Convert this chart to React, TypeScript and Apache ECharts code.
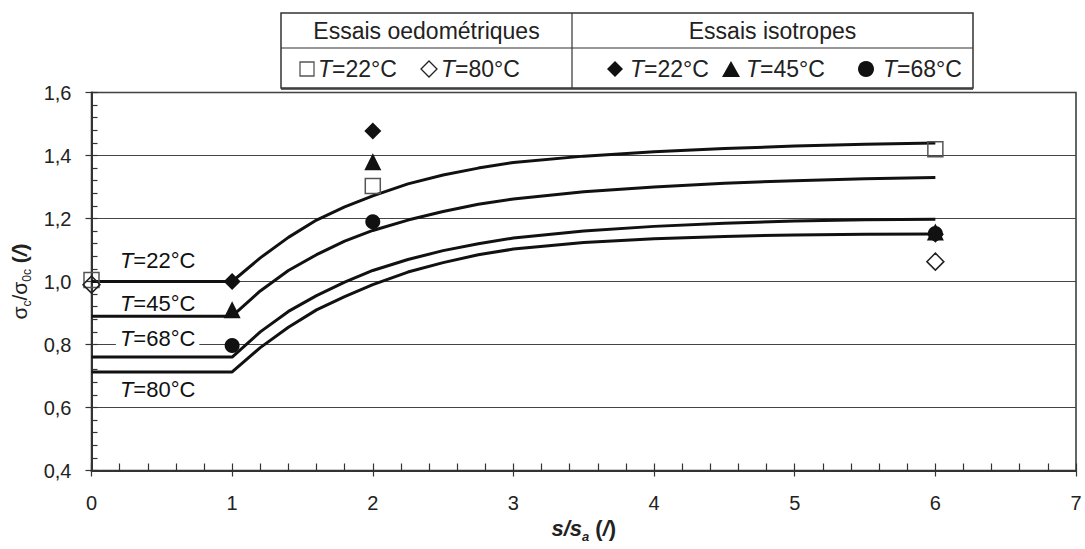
import React, { useEffect, useRef } from 'react';
import * as echarts from 'echarts';

// ---------- data ----------
const curveX = [0, 1, 1.2, 1.4, 1.6, 1.8, 2, 2.25, 2.5, 2.75, 3, 3.5, 4, 4.5, 5, 5.5, 6];
const curveT22 = [1.0, 1.0, 1.075, 1.14, 1.195, 1.237, 1.272, 1.31, 1.338, 1.36, 1.378, 1.398, 1.412, 1.422, 1.43, 1.436, 1.44];
const curveT45 = [0.89, 0.89, 0.97, 1.035, 1.085, 1.128, 1.162, 1.195, 1.222, 1.245, 1.262, 1.285, 1.3, 1.312, 1.32, 1.326, 1.33];
const curveT68 = [0.76, 0.76, 0.84, 0.905, 0.955, 0.998, 1.035, 1.07, 1.098, 1.12, 1.138, 1.16, 1.175, 1.185, 1.192, 1.196, 1.198];
const curveT80 = [0.713, 0.713, 0.79, 0.855, 0.91, 0.952, 0.99, 1.03, 1.06, 1.085, 1.103, 1.124, 1.136, 1.143, 1.148, 1.15, 1.151];

const curveLabelText = ['22', '45', '68', '80'];
const curveLabelX = [0.47, 0.47, 0.47, 0.47];
const curveLabelY = [1.068, 0.931, 0.82, 0.657];

const oedoT22 = [[0, 1.005], [2, 1.303], [6, 1.42]];
const oedoT80 = [[0, 0.99], [6, 1.063]];
const isoT22 = [[1, 1.0], [2, 1.478], [6, 1.15]];
const isoT45 = [[1, 0.91], [2, 1.38], [6, 1.157]];
const isoT68 = [[1, 0.797], [2, 1.19], [6, 1.152]];

const legendGroupTitles = ['Essais oedométriques', 'Essais isotropes'];
const legendOedo = ['22', '80'];
const legendIso = ['22', '45', '68'];

const xMin = 0, xMax = 7, xStep = 1, xMinor = 0.2;
const yMin = 0.4, yMax = 1.6, yStep = 0.2, yMinor = 0.04;

// ---------- style ----------
const FONT = '"Liberation Sans", Arial, Helvetica, sans-serif';
const INK = '#111';
const AXIS = '#333';

const pair = (xs: number[], ys: number[]) => xs.map((x, i) => [x, ys[i]]);

const tT = (n: string) => `{i|T}=${n}°C`;

const richT = {
  i: { fontStyle: 'italic', fontFamily: FONT, fontSize: 22, color: INK },
};

function buildOption() {
  const lineSeries = [curveT22, curveT45, curveT68, curveT80].map((ys, k) => ({
    type: 'line',
    name: 'curve' + k,
    data: pair(curveX, ys),
    showSymbol: false,
    symbol: 'none',
    silent: true,
    lineStyle: { color: INK, width: 3, opacity: 1 },
    z: 3,
  }));

  const labelSeries = {
    type: 'scatter',
    silent: true,
    symbolSize: 1,
    itemStyle: { color: 'rgba(0,0,0,0)', opacity: 1 },
    z: 4,
    data: curveLabelX.map((x, i) => ({
      value: [x, curveLabelY[i]],
      name: curveLabelText[i],
      label: i === 2 ? { backgroundColor: '#fff', padding: [1, 4, 1, 4] } : {},
    })),
    label: {
      show: true,
      position: 'inside',
      formatter: (p: any) => tT(p.name),
      color: INK,
      opacity: 1,
      fontFamily: FONT,
      fontSize: 22,
      rich: richT,
    },
  };

  const mk = (data: number[][], symbol: string, size: number, filled: boolean, z: number) => ({
    type: 'scatter',
    silent: true,
    data,
    symbol,
    symbolSize: size,
    z,
    itemStyle: filled
      ? { color: INK, opacity: 1 }
      : { color: 'rgba(0,0,0,0)', opacity: 1, borderColor: symbol === 'rect' ? '#555' : '#222', borderWidth: 1.5 },
  });

  const hiddenLine = { show: true, onZero: false, lineStyle: { color: 'rgba(0,0,0,0)', width: 0 } };

  const option: any = {
    animation: false,
    backgroundColor: '#fff',
    textStyle: { fontFamily: FONT },
    grid: {
      left: 91.5,
      top: 92.5,
      right: 9,
      bottom: 78.5,
      containLabel: false,
      outerBoundsMode: 'none',
      show: true,
      borderColor: AXIS,
      borderWidth: 1.5,
      backgroundColor: 'transparent',
    },
    xAxis: [
      {
        type: 'value',
        min: xMin,
        max: xMax,
        interval: xStep,
        axisLine: { show: true, onZero: false, lineStyle: { color: AXIS, width: 2 } },
        axisTick: { show: true, inside: false, length: 6, lineStyle: { color: AXIS, width: 1.2 } },
        axisLabel: {
          show: true,
          margin: 22,
          color: '#222',
          fontSize: 20,
          fontFamily: FONT,
          formatter: (v: number) => String(v),
        },
        splitLine: { show: false },
        name: '{bi|s/s}{sub|a}{b| (}{bi|/}{b|)}',
        nameLocation: 'middle',
        nameGap: 45,
        nameTextStyle: {
          color: '#222',
          rich: {
            bi: { fontFamily: FONT, fontSize: 22, fontWeight: 'bold', fontStyle: 'italic', lineHeight: 24, verticalAlign: 'top', color: '#222' },
            b: { fontFamily: FONT, fontSize: 22, fontWeight: 'bold', lineHeight: 24, verticalAlign: 'top', color: '#222' },
            sub: { fontFamily: FONT, fontSize: 13, fontWeight: 'bold', fontStyle: 'italic', lineHeight: 13, padding: [13, 0, 0, 0], verticalAlign: 'top', color: '#222' },
          },
        },
      },
      {
        type: 'value',
        min: xMin,
        max: xMax,
        interval: xMinor,
        position: 'bottom',
        axisLine: hiddenLine,
        axisTick: { show: true, inside: true, length: 7, lineStyle: { color: AXIS, width: 1.2 } },
        axisLabel: { show: false },
        splitLine: { show: false },
      },
    ],
    yAxis: [
      {
        type: 'value',
        min: yMin,
        max: yMax,
        interval: yStep,
        axisLine: { show: true, onZero: false, lineStyle: { color: AXIS, width: 2 } },
        axisTick: { show: true, inside: false, length: 6, lineStyle: { color: AXIS, width: 1.2 } },
        axisLabel: {
          show: true,
          margin: 20,
          color: '#222',
          fontSize: 20,
          fontFamily: FONT,
          formatter: (v: number) => v.toFixed(1).replace('.', ','),
        },
        splitLine: { show: true, lineStyle: { color: '#444', width: 1 } },
        name: '{g|σ}{s|c}{g|/σ}{s|0c}{b| (}{bi|/}{b|)}',
        nameLocation: 'middle',
        nameRotate: 90,
        nameGap: 57,
        nameTextStyle: {
          color: '#222',
          rich: {
            g: { fontFamily: FONT, fontSize: 21, lineHeight: 22, verticalAlign: 'top', color: '#222' },
            s: { fontFamily: FONT, fontSize: 12, lineHeight: 12, padding: [12, 0, 0, 0], verticalAlign: 'top', color: '#222' },
            b: { fontFamily: FONT, fontSize: 21, fontWeight: 'bold', lineHeight: 22, verticalAlign: 'top', color: '#222' },
            bi: { fontFamily: FONT, fontSize: 21, fontWeight: 'bold', fontStyle: 'italic', lineHeight: 22, verticalAlign: 'top', color: '#222' },
          },
        },
      },
      {
        type: 'value',
        min: yMin,
        max: yMax,
        interval: yMinor,
        position: 'left',
        axisLine: hiddenLine,
        axisTick: { show: true, inside: true, length: 6, lineStyle: { color: AXIS, width: 1.2 } },
        axisLabel: { show: false },
        splitLine: { show: false },
      },
    ],
    series: [
      ...lineSeries,
      labelSeries,
      mk(oedoT22, 'rect', 15, false, 5),
      mk(oedoT80, 'diamond', 17, false, 5),
      mk(isoT22, 'diamond', 17, true, 6),
      mk(isoT45, 'triangle', 17, true, 6),
      mk(isoT68, 'circle', 15, true, 6),
    ],
    graphic: buildLegend(),
  };
  return option;
}

function buildLegend() {
  const L = 281, R = 973, T = 13, M = 48, B = 88, D = 572;
  const rowY = 69;
  const FS = 23;
  const txt = (x: number, y: number, text: string, align: string, rich?: any) => ({
    type: 'text',
    x,
    y,
    silent: true,
    style: {
      text,
      align,
      verticalAlign: 'middle',
      fontFamily: FONT,
      fontSize: FS,
      fill: '#222',
      rich,
    },
  });
  const richL = { i: { fontStyle: 'italic', fontFamily: FONT, fontSize: FS, fill: '#222', color: '#222' } };
  const els: any[] = [
    { type: 'rect', silent: true, shape: { x: L, y: T, width: R - L, height: B - T }, style: { fill: '#fff', stroke: '#333', lineWidth: 1.5 } },
    { type: 'line', silent: true, shape: { x1: L, y1: B + 1, x2: R, y2: B + 1 }, style: { stroke: '#333', lineWidth: 1.5 } },
    { type: 'line', silent: true, shape: { x1: L, y1: M, x2: R, y2: M }, style: { stroke: '#333', lineWidth: 1.2 } },
    { type: 'line', silent: true, shape: { x1: D, y1: T, x2: D, y2: B }, style: { stroke: '#333', lineWidth: 1.2 } },
    txt((L + D) / 2, 31, legendGroupTitles[0], 'center'),
    txt((D + R) / 2, 31, legendGroupTitles[1], 'center'),
    // oedometric
    { type: 'rect', silent: true, shape: { x: 300, y: rowY - 7, width: 14, height: 14 }, style: { fill: 'none', stroke: '#555', lineWidth: 1.3 } },
    txt(318, rowY, tT(legendOedo[0]), 'left', richL),
    { type: 'polygon', silent: true, shape: { points: [[429, rowY - 8], [437, rowY], [429, rowY + 8], [421, rowY]] }, style: { fill: 'none', stroke: '#222', lineWidth: 1.3 } },
    txt(441, rowY, tT(legendOedo[1]), 'left', richL),
    // isotropic
    { type: 'polygon', silent: true, shape: { points: [[615, rowY - 8], [623, rowY], [615, rowY + 8], [607, rowY]] }, style: { fill: INK } },
    txt(630, rowY, tT(legendIso[0]), 'left', richL),
    { type: 'polygon', silent: true, shape: { points: [[731, rowY - 8], [740, rowY + 8], [722, rowY + 8]] }, style: { fill: INK } },
    txt(746, rowY, tT(legendIso[1]), 'left', richL),
    { type: 'circle', silent: true, shape: { cx: 866, cy: rowY, r: 8 }, style: { fill: INK } },
    txt(883, rowY, tT(legendIso[2]), 'left', richL),
  ];
  return els;
}

export default function App() {
  const ref = useRef<HTMLDivElement>(null);
  useEffect(() => {
    if (!ref.current) return;
    const chart = echarts.init(ref.current, null, { renderer: 'svg' });
    chart.setOption(buildOption());
    return () => chart.dispose();
  }, []);
  return (
    <div
      ref={ref}
      style={{ position: 'absolute', left: 0, top: 0, width: 1085, height: 549, background: '#fff' }}
    />
  );
}
